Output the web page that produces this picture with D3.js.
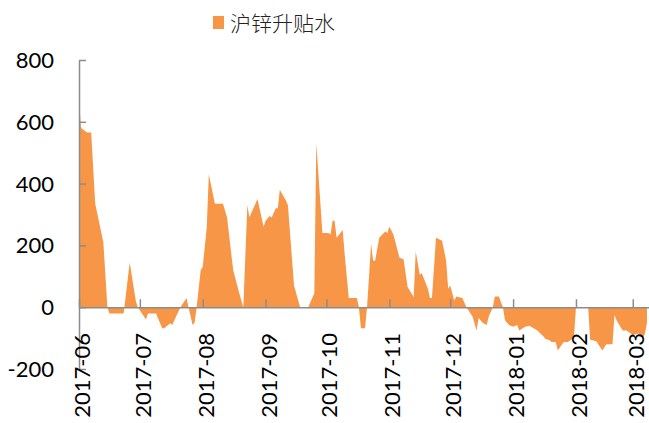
<!DOCTYPE html>
<html>
<head>
<meta charset="utf-8">
<script src="https://cdn.jsdelivr.net/npm/d3@7"></script>
<style>
  body { margin: 0; background: #fff; }
  text { font-family: Lato, "Noto Sans", sans-serif; fill: #000; }
</style>
</head>
<body>
<svg id="chart" width="649" height="423"></svg>
<script>
// 沪锌升贴水
var seriesName = "沪锌升贴水";
var dates = [
  "2017-06-01","2017-06-02","2017-06-05","2017-06-07","2017-06-09","2017-06-13","2017-06-15","2017-06-16",
  "2017-06-23","2017-06-26","2017-06-29","2017-06-30","2017-07-01","2017-07-04","2017-07-05","2017-07-09",
  "2017-07-12","2017-07-13","2017-07-16","2017-07-17","2017-07-18","2017-07-21","2017-07-24","2017-07-25",
  "2017-07-27","2017-07-28","2017-07-29","2017-07-31","2017-08-01","2017-08-03","2017-08-04","2017-08-07",
  "2017-08-11","2017-08-13","2017-08-16","2017-08-19","2017-08-21","2017-08-23","2017-08-24","2017-08-26",
  "2017-08-28","2017-08-31","2017-09-01","2017-09-03","2017-09-04","2017-09-06","2017-09-07","2017-09-08",
  "2017-09-11","2017-09-12","2017-09-15","2017-09-18","2017-09-22","2017-09-25","2017-09-26","2017-09-29",
  "2017-10-02","2017-10-03","2017-10-04","2017-10-05","2017-10-06","2017-10-09","2017-10-10","2017-10-12",
  "2017-10-16","2017-10-17","2017-10-18","2017-10-20","2017-10-21","2017-10-23","2017-10-24","2017-10-25",
  "2017-10-27","2017-10-30","2017-10-31","2017-11-01","2017-11-03","2017-11-06","2017-11-08","2017-11-10",
  "2017-11-13","2017-11-14","2017-11-16","2017-11-17","2017-11-20","2017-11-21","2017-11-22","2017-11-24",
  "2017-11-27","2017-11-29","2017-11-30","2017-12-01","2017-12-03","2017-12-04","2017-12-07","2017-12-09",
  "2017-12-12","2017-12-14","2017-12-15","2017-12-17","2017-12-19","2017-12-20","2017-12-22","2017-12-23",
  "2017-12-25","2017-12-27","2017-12-28","2017-12-30","2018-01-01","2018-01-03","2018-01-04","2018-01-07",
  "2018-01-09","2018-01-13","2018-01-16","2018-01-17","2018-01-19","2018-01-20","2018-01-22","2018-01-23",
  "2018-01-26","2018-01-28","2018-01-31","2018-02-01","2018-02-07","2018-02-08","2018-02-11","2018-02-14",
  "2018-02-16","2018-02-19","2018-02-20","2018-02-21","2018-02-24","2018-02-26","2018-03-01","2018-03-04",
  "2018-03-06","2018-03-07","2018-03-08"
];
var values = [
  680, 580, 565, 565, 335, 210, 0, -20,
  -20, 145, 20, 0, -10, -40, -20, -20,
  -68, -68, -52, -58, -42, 0, 30, 0,
  -58, -50, 0, 120, 130, 260, 430, 335,
  335, 290, 120, 45, 0, 330, 290, 320,
  350, 260, 280, 295, 290, 320, 320, 380,
  345, 330, 70, 0, 0, 45, 530, 240,
  240, 235, 280, 280, 225, 250, 170, 30,
  30, 0, -68, -68, 0, 205, 150, 150,
  225, 245, 240, 260, 235, 160, 155, 65,
  33, 180, 105, 110, 60, 30, 30, 225,
  215, 150, 60, 70, 22, 35, 30, 0,
  -30, -75, -35, -50, -58, -30, 0, 35,
  35, 0, -42, -58, -63, -58, -75, -63,
  -60, -75, -95, -103, -107, -113, -113, -140,
  -113, -113, -100, 0, 0, -105, -110, -140,
  -120, -120, -25, -42, -75, -75, -90, -85,
  -100, -85, -50
];
var yTicks = [-200, 0, 200, 400, 600, 800];
var monthTicks = ["2017-06","2017-07","2017-08","2017-09","2017-10","2017-11","2017-12","2018-01","2018-02","2018-03"];

var parse = d3.timeParse("%Y-%m-%d");
var parseMonth = d3.timeParse("%Y-%m");
var data = dates.map(function(d, i) { return { date: parse(d), value: values[i] }; });

var svg = d3.select("#chart");
var axisColor = "#8c8c8c";
var orange = "#f79646";

var x = d3.scaleTime()
    .domain([parse("2017-06-01"), parse("2018-03-09")])
    .range([79, 649]);
var y = d3.scaleLinear()
    .domain([-200, 800])
    .range([369, 60]);

var area = d3.area()
    .x(function(d) { return x(d.date); })
    .y0(y(0))
    .y1(function(d) { return y(d.value); });

svg.append("path")
    .datum(data)
    .attr("fill", orange)
    .attr("d", area);

// y axis, ticks pointing into the plot
var yAxis = svg.append("g")
    .attr("transform", "translate(" + x.range()[0] + ",0)")
    .call(d3.axisRight(y).tickValues(yTicks).tickSize(7).tickSizeOuter(0).tickFormat(""));
yAxis.select(".domain").attr("stroke", axisColor).attr("stroke-width", 1.5);
yAxis.selectAll(".tick line").attr("stroke", axisColor).attr("stroke-width", 1.5);

svg.append("g").selectAll("text")
    .data(yTicks)
    .enter().append("text")
    .attr("x", 54)
    .attr("y", function(d) { return y(d); })
    .attr("dy", "0.36em")
    .attr("text-anchor", "end")
    .style("font-size", "22px")
    .text(function(d) { return d; });

// x axis on the zero line, ticks pointing up
var xAxis = svg.append("g")
    .attr("transform", "translate(0," + y(0) + ")")
    .call(d3.axisTop(x).tickValues(monthTicks.map(parseMonth)).tickSize(8).tickSizeOuter(0).tickFormat(""));
xAxis.select(".domain").attr("stroke", axisColor).attr("stroke-width", 1.5);
xAxis.selectAll(".tick line").attr("stroke", axisColor).attr("stroke-width", 1.5);

svg.append("g").selectAll("text")
    .data(monthTicks)
    .enter().append("text")
    .attr("transform", function(d) { return "translate(" + (x(parseMonth(d)) + 3) + ",333) rotate(-90)"; })
    .attr("dy", "0.36em")
    .attr("text-anchor", "end")
    .style("font-size", "22px")
    .text(function(d) { return d; });

// legend
var legend = svg.append("g");
legend.append("rect")
    .attr("x", 213).attr("y", 16)
    .attr("width", 11).attr("height", 13)
    .attr("fill", orange);
legend.append("text")
    .attr("x", 230).attr("y", 31)
    .style("font-family", "'Noto Sans CJK SC', sans-serif")
    .style("font-size", "21px")
    .style("font-weight", 300)
    .style("fill", "#222")
    .text(seriesName);
</script>
</body>
</html>
